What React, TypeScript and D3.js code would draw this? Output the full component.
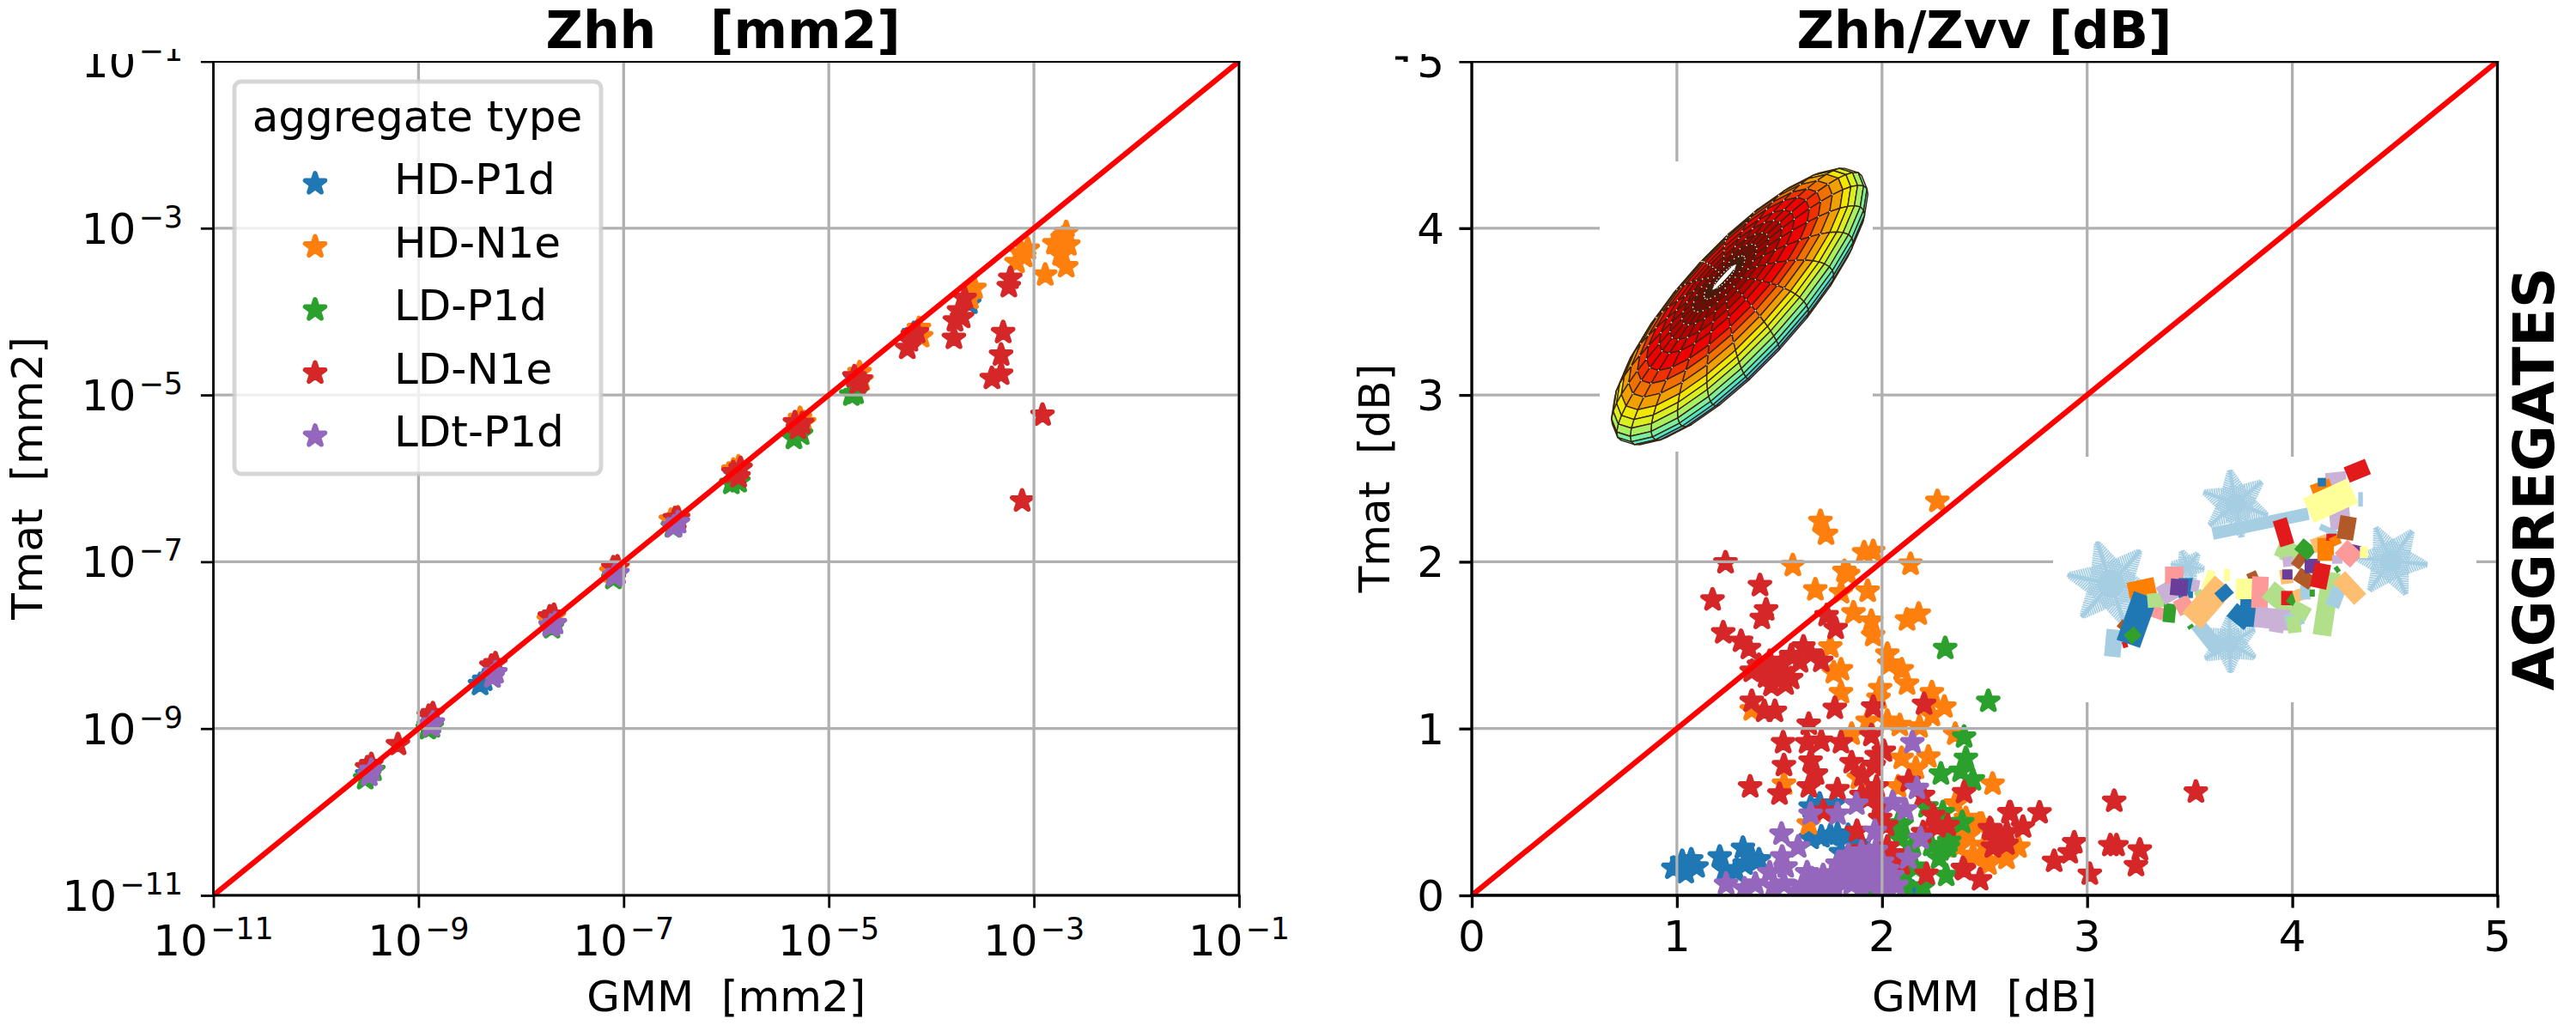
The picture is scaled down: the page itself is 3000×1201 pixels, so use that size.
import { useEffect, useRef } from "react";
import * as d3 from "d3";

const seriesNames = ["HD-P1d", "HD-N1e", "LD-P1d", "LD-N1e", "LDt-P1d"];
const seriesColors = ["#1f77b4", "#ff7f0e", "#2ca02c", "#d62728", "#9467bd"];

const logTicks = [-11, -9, -7, -5, -3, -1];
const dbTicks = [0, 1, 2, 3, 4, 5];

// Zhh panel, log10 of mm2 [GMM, Tmat]
const zhhHdP1d = [[-9.5,-9.55],[-8.9,-8.96],[-8.4,-8.47],[-8.36,-8.42],[-7.71,-7.76],[-7.09,-7.15],[-6.51,-6.56],[-5.91,-5.96],[-5.29,-5.36],[-4.74,-4.8],[-4.17,-4.26],[-3.63,-3.9]];
const zhhHdN1e = [[-7.68,-7.66],[-7.73,-7.7],[-7.06,-7.07],[-7.12,-7.12],[-6.47,-6.47],[-6.54,-6.5],[-5.88,-5.86],[-5.93,-5.9],[-5.28,-5.28],[-5.24,-5.33],[-4.7,-4.73],[-4.68,-4.82],[-4.12,-4.2],[-4.1,-4.3],[-3.58,-3.72],[-3.62,-3.84],[-3.095,-3.339],[-3.17,-3.41],[-3.06,-3.25],[-3.12,-3.3],[-2.8,-3.185],[-2.685,-3.05],[-2.665,-3.2],[-2.74,-3.32],[-2.685,-3.46],[-2.89,-3.56],[-2.72,-3.12]];
const zhhLdP1d = [[-9.52,-9.6],[-9.44,-9.5],[-9.5,-9.47],[-8.91,-9],[-8.87,-8.98],[-8.28,-8.38],[-7.7,-7.79],[-7.1,-7.2],[-6.52,-6.58],[-5.95,-6.06],[-5.88,-6.04],[-5.34,-5.52],[-5.27,-5.47],[-4.78,-5],[-4.74,-4.98]];
const zhhLdN1e = [[-9.5,-9.47],[-9.46,-9.43],[-9.2,-9.19],[-8.9,-8.85],[-8.86,-8.82],[-8.29,-8.25],[-8.25,-8.22],[-7.72,-7.66],[-7.68,-7.64],[-7.1,-7.07],[-7.06,-7.06],[-6.5,-6.48],[-6.47,-6.48],[-5.88,-5.98],[-5.93,-5.93],[-5.86,-5.88],[-5.3,-5.4],[-5.33,-5.33],[-5.26,-5.34],[-4.72,-4.865],[-4.75,-4.78],[-4.69,-4.82],[-4.18,-4.28],[-4.235,-4.44],[-4.21,-4.35],[-4.14,-4.25],[-3.23,-3.6],[-3.245,-3.7],[-3.675,-3.84],[-3.73,-3.99],[-3.77,-4.11],[-3.7,-4.07],[-3.78,-4.32],[-3.3,-4.25],[-3.32,-4.52],[-3.32,-4.75],[-3.41,-4.8],[-2.916,-5.24],[-3.115,-6.27]];
const zhhLdtP1d = [[-9.48,-9.56],[-9.46,-9.5],[-8.88,-8.97],[-8.86,-8.93],[-8.28,-8.38],[-8.25,-8.33],[-7.71,-7.77],[-7.67,-7.74],[-7.09,-7.17],[-7.06,-7.14],[-6.51,-6.58],[-6.47,-6.53]];
const zhhSeries = [zhhHdP1d, zhhHdN1e, zhhLdP1d, zhhLdN1e, zhhLdtP1d];

// Zhh/Zvv panel, dB [GMM, Tmat]
const zdrHdP1d = [[0.983,0.163],[1.026,0.205],[1.07,0.214],[1.096,0.171],[1.043,0.137],[1.209,0.231],[1.235,0.154],[1.322,0.283],[1.365,0.223],[1.33,0.188],[1.4,0.214],[1.287,0.146],[1.652,0.342],[1.704,0.351],[1.748,0.36],[1.783,0.368],[1.835,0.36],[1.696,0.548],[1.765,0.548],[1.652,0.53],[1.887,0.308],[1.8,0.257],[2.15,0.02]];
const zdrHdN1e = [[2.27,2.363],[1.7,2.243],[1.727,2.166],[1.913,2.055],[1.957,2.063],[1.565,1.978],[2.139,1.986],[1.817,1.943],[1.835,1.925],[1.675,1.832],[1.8,1.815],[1.93,1.824],[1.861,1.695],[2.122,1.652],[2.179,1.687],[1.948,1.644],[1.957,1.558],[1.748,1.49],[2.026,1.447],[2.035,1.387],[2.096,1.353],[1.765,1.336],[1.8,1.353],[2.122,1.267],[1.8,1.216],[1.991,1.241],[2.243,1.216],[2.304,1.13],[2.243,1.079],[1.983,1.182],[1.365,1.113],[1.93,1.045],[2.026,1.045],[2.087,1.019],[2.183,1.01],[1.852,0.967],[2.357,0.967],[2.096,0.822],[2.226,0.83],[2.165,0.762],[2.539,0.668],[1.522,0.668],[2.357,0.548],[2.409,0.462],[2.487,0.428],[2.443,0.24],[2.513,0.205],[2.374,0.291],[2.583,0.257],[1.643,0.428],[1.887,0.702],[2.078,0.651],[2.474,0.428],[2.665,0.29],[2.607,0.222],[2.519,0.188],[2.445,0.239],[2.35,0.34],[2.42,0.36],[2.5,0.3],[2.57,0.35]];
const zdrLdP1d = [[2.308,1.481],[2.518,1.164],[2.4,0.95],[2.409,0.822],[2.383,0.745],[2.443,0.693],[2.287,0.728],[2.391,0.437],[2.296,0.497],[2.096,0.428],[2.087,0.342],[2.322,0.291],[2.278,0.223],[2.313,0.12],[2.113,0.12],[2.113,0.051],[2.2,0.051],[1.948,0.017],[2.217,0.531],[2.113,0.223],[2.107,0.119],[2.078,0.428],[2.284,0.273],[2.328,0.325],[2.16,0.17],[2.24,0.3],[2.15,0.3]];
const zdrLdN1e = [[1.237,1.995],[1.405,1.858],[1.174,1.772],[1.435,1.712],[1.414,1.661],[1.226,1.575],[1.313,1.524],[1.351,1.481],[1.73,1.678],[1.774,1.601],[1.617,1.49],[1.557,1.438],[1.652,1.447],[1.704,1.404],[1.513,1.387],[1.452,1.404],[1.365,1.344],[1.435,1.31],[1.461,1.259],[1.53,1.267],[1.557,1.301],[1.4,1.38],[1.49,1.34],[1.6,1.4],[1.365,1.164],[1.426,1.104],[1.478,1.104],[1.77,1.122],[1.957,1.13],[2.205,1.147],[1.643,1.027],[1.518,0.916],[1.635,0.916],[1.704,0.925],[1.8,0.916],[1.948,0.959],[1.522,0.779],[1.652,0.805],[1.678,0.728],[1.852,0.796],[1.974,0.839],[2.009,0.865],[1.357,0.651],[1.5,0.608],[1.643,0.651],[1.783,0.634],[1.904,0.719],[1.974,0.651],[2.13,0.685],[2.4,0.616],[2.2,0.599],[1.713,0.505],[1.878,0.385],[1.991,0.462],[2.026,0.291],[2.27,0.411],[2.2,0.377],[2.217,0.128],[2.4,0.154],[2.478,0.094],[2.626,0.497],[2.53,0.394],[2.565,0.325],[2.609,0.377],[1.904,0.274],[2.096,0.188],[2.768,0.496],[2.621,0.496],[2.687,0.41],[2.526,0.402],[2.57,0.342],[2.54,0.29],[2.607,0.308],[3.132,0.565],[2.937,0.316],[2.915,0.256],[2.839,0.205],[3.113,0.299],[3.143,0.299],[3.257,0.273],[3.238,0.179],[3.013,0.128],[2.394,0.162],[3.53,0.62],[1.93,0.58],[1.99,0.55],[2.02,0.42],[2.05,0.25],[2.25,0.48],[2.32,0.42],[1.96,0.78],[1.9,0.6]];
const zdrLdtP1d = [[2.148,0.916],[2.17,0.642],[2.052,0.557],[2.113,0.514],[1.875,0.548],[1.652,0.488],[1.783,0.488],[1.965,0.385],[2.188,0.342],[1.51,0.368],[1.591,0.291],[1.513,0.231],[1.53,0.171],[2.127,0.223],[1.24,0.068],[1.452,0.137],[1.635,0.137],[1.383,0.068],[1.522,0.068],[1.835,0.24],[1.939,0.24],[1.678,0.068],[1.765,0.068],[1.852,0.068],[1.939,0.068],[2.026,0.068],[1.609,0.051],[1.713,0.12],[1.8,0.154],[1.887,0.154],[1.974,0.137],[2.026,0.154],[1.783,0.188],[1.87,0.205],[1.957,0.188],[1.47,0.051],[1.748,0.051],[1.904,0.103],[1.33,0.04],[1.58,0.02],[1.68,0.02],[1.72,0.06],[1.78,0.12],[1.83,0.09],[1.9,0.03],[1.96,0.1],[2,0.03],[2.07,0.06],[2.05,0.12],[1.84,0.17],[1.9,0.26],[1.97,0.27],[2,0.2],[1.76,0.13],[1.66,0.1]];
const zdrSeries = [zdrHdP1d, zdrHdN1e, zdrLdP1d, zdrLdN1e, zdrLdtP1d];

// inset picture of the spheroid: ring radius (fraction of the long axis), surface side, ring colour
const ringRadius = [0, 0.08, 0.16, 0.25, 0.34, 0.44, 0.53, 0.64, 0.72, 0.8, 0.87, 0.92, 0.96, 0.99, 1, 0.99, 0.96, 0.91];
const ringSide = [1, 1, 1, 1, 1, 1, 1, 1, 1, 1, 1, 1, 1, 1, 1, -1, -1, -1];
const ringColors = ["#640000", "#780000", "#8c0000", "#a00000", "#b80000", "#dc0000", "#f00000", "#f03000", "#f07000", "#f0a000", "#f0e800", "#d8f020", "#a8f060", "#78f0a0", "#50e8c8", "#40c8e0", "#4090d8"];
const sectorCount = 24;

// inset picture of the crystals, in the picture's own coordinates
const flakes = [[355, 690, 52, 0.2], [680, 410, 40, 0.35], [1085, 610, 43, 0.1], [665, 900, 34, 0.5], [555, 630, 20, 0.15]];
const rods = [
  [0,620,515,870,445,12],[0,365,850,358,945,16],[0,1000,395,1012,395,14],[0,900,490,960,525,6],[0,580,830,640,930,15],
  [11,380,850,395,825,10],[5,385,905,398,900,6],[4,470,810,480,770,14],[6,405,745,470,725,18],[7,400,715,470,695,16],
  [1,445,730,400,900,24],[3,425,855,398,885,12],[2,450,750,495,745,14],[3,510,760,505,825,12],[8,490,690,515,750,16],
  [4,520,630,520,690,18],[1,550,670,550,740,14],[4,535,740,555,790,16],[8,565,695,585,700,12],[9,510,700,555,705,16],
  [10,600,670,620,680,18],[10,650,660,665,660,12],[2,580,715,590,735,8],[6,650,690,565,820,24],[1,665,705,635,740,12],
  [3,560,835,565,845,6],[11,720,650,730,680,10],[2,690,745,760,700,14],[1,715,735,710,840,16],[1,670,780,715,830,16],
  [10,680,708,745,708,20],[4,745,665,742,775,16],[2,765,710,830,780,20],[8,730,805,830,820,20],[8,790,820,785,860,14],
  [9,828,850,830,855,4],[0,810,825,855,805,14],[2,815,835,850,830,16],[2,830,770,870,800,14],[6,810,640,815,690,12],
  [5,815,715,815,765,12],[3,835,730,820,760,8],[6,840,710,850,750,10],[0,862,695,862,745,10],[3,880,710,880,735,5],
  [2,930,650,905,870,18],[0,950,705,932,770,14],[6,950,665,1005,745,16],[2,790,560,840,590,18],[2,800,580,840,600,14],
  [8,815,595,818,630,10],[9,815,640,815,675,10],[11,860,585,835,630,10],[11,840,655,880,690,14],[9,860,628,900,628,14],
  [5,795,465,815,555,14],[3,845,550,880,590,14],[6,880,560,920,540,14],[7,915,530,915,610,16],[5,908,620,895,705,16],
  [3,950,635,940,645,6],[8,945,590,945,620,10],[9,995,555,990,590,10],[5,930,515,930,540,10],[7,935,525,945,555,10],
  [4,955,560,995,610,18],[10,1015,560,1015,600,8],[8,940,300,955,500,20],[11,975,455,965,535,16],[7,880,370,930,345,14],
  [1,905,320,905,350,8],[11,965,405,975,415,8],[10,870,435,985,365,26],[5,970,310,1025,280,16],
];

const W = 3000;
const H = 1201;
const top = 71.5;
const bottom = 1043;
const tickFont = 50;
const labelFont = 50;
const font = "'DejaVu Sans'";

const star = d3.symbol().type(d3.symbolStar).size(165)();

const App = () => {
  const ref = useRef(null);

  useEffect(() => {
    const svg = d3.select(ref.current);
    svg.selectAll("*").remove();
    svg.attr("width", W).attr("height", H).attr("viewBox", [0, 0, W, H]).style("position", "absolute").style("left", 0).style("top", 0).style("background", "#fff").attr("font-family", font);

    const x0 = d3.scaleLog().domain([1e-11, 1e-1]).range([248.5, 1443]);
    const y0 = d3.scaleLog().domain([1e-11, 1e-1]).range([bottom, top]);
    const x1 = d3.scaleLinear().domain([0, 5]).range([1714, 2908.5]);
    const y1 = d3.scaleLinear().domain([0, 5]).range([bottom, top]);

    const defs = svg.append("defs");
    const clipFor = (id, l, r) =>
      defs.append("clipPath").attr("id", id).append("rect").attr("x", l).attr("y", top).attr("width", r - l).attr("height", bottom - top);
    clipFor("clip0", 248.5, 1443);
    clipFor("clip1", 1714, 2908.5);
    defs.append("clipPath").attr("id", "topcut0").append("rect").attr("x", 0).attr("y", 57).attr("width", W).attr("height", H);
    defs.append("clipPath").attr("id", "topcut1").append("rect").attr("x", 0).attr("y", 63).attr("width", W).attr("height", H);

    const drawStars = (g, data, color, sx, sy) => {
      g.selectAll(null)
        .data(data)
        .join("path")
        .attr("d", star)
        .attr("transform", (d) => `translate(${sx(d[0])},${sy(d[1])})`)
        .attr("fill", color)
        .attr("stroke", color)
        .attr("stroke-width", 5.5)
        .attr("stroke-linejoin", "round");
    };

    const drawGrid = (g, sx, sy, xt, yt) => {
      const gridColor = "#b0b0b0";
      g.selectAll(null).data(xt).join("line").attr("x1", sx).attr("x2", sx).attr("y1", top).attr("y2", bottom).attr("stroke", gridColor).attr("stroke-width", 3.3);
      g.selectAll(null).data(yt).join("line").attr("y1", sy).attr("y2", sy).attr("x1", sx.range()[0]).attr("x2", sx.range()[1]).attr("stroke", gridColor).attr("stroke-width", 3.3);
    };

    // -------- left panel
    const logVal = (v) => Math.pow(10, v);
    const logTickVals = logTicks.map(logVal);
    const p0 = svg.append("g").attr("clip-path", "url(#clip0)");
    zhhSeries.forEach((s, i) => drawStars(p0, s.map((d) => d.map(logVal)), seriesColors[i], x0, y0));
    drawGrid(p0, x0, y0, logTickVals, logTickVals);
    p0.append("line").attr("x1", x0(1e-11)).attr("y1", y0(1e-11)).attr("x2", x0(1e-1)).attr("y2", y0(1e-1)).attr("stroke", "#ff0000").attr("stroke-width", 6.25);

    // -------- right panel
    const p1 = svg.append("g").attr("clip-path", "url(#clip1)");
    zdrSeries.forEach((s, i) => drawStars(p1, s, seriesColors[i], x1, y1));
    drawGrid(p1, x1, y1, dbTicks, dbTicks);
    p1.append("line").attr("x1", x1(0)).attr("y1", y1(0)).attr("x2", x1(5)).attr("y2", y1(5)).attr("stroke", "#ff0000").attr("stroke-width", 6.25);

    // spheroid inset
    p1.append("rect").attr("x", 1863).attr("y", 188).attr("width", 318).attr("height", 338).attr("fill", "#fff");
    const sph = p1.append("g");
    const cx = 2026, cy = 357, a = 209, c = 38, s = 0.28, cb = 0.96, skew = 0.34;
    const ux = 0.68, uy = -0.73, nx = 0.73, ny = 0.68;
    const project = (ri, k) => {
      const phi = (k / sectorCount) * 2 * Math.PI;
      const r = ringRadius[ri];
      const z = ringSide[ri] * Math.sqrt(Math.max(0, 1 - r * r));
      const X = a * r * Math.cos(phi);
      const Y = a * r * Math.sin(phi);
      const U = X + skew * c * z;
      const V = Y * s - c * z * cb;
      return [cx + U * ux + V * nx, cy + U * uy + V * ny];
    };
    ringColors.forEach((col, ri) => {
      d3.range(sectorCount).forEach((k) => {
        const q = [project(ri, k), project(ri, k + 1), project(ri + 1, k + 1), project(ri + 1, k)];
        if (d3.polygonArea(q) <= 0) return;
        sph.append("path").attr("d", "M" + q.join("L") + "Z").attr("fill", col).attr("stroke", "#3a2410").attr("stroke-width", 1.4).attr("stroke-linejoin", "round");
      });
    });
    d3.range(1, 10).forEach((ri) => {
      d3.range(sectorCount).forEach((k) => {
        const q = project(ri, k);
        sph.append("circle").attr("cx", q[0]).attr("cy", q[1]).attr("r", 0.8).attr("fill", "#fff");
      });
    });
    const pole = project(0, 0);
    sph.append("ellipse").attr("cx", pole[0]).attr("cy", pole[1]).attr("rx", 20).attr("ry", 2.4).attr("fill", "#fff").attr("transform", `rotate(-47 ${pole[0]} ${pole[1]})`);

    // crystal inset
    p1.append("rect").attr("x", 2391).attr("y", 532).attr("width", 493).attr("height", 286).attr("fill", "#fff");
    const insetX = d3.scaleLinear().domain([0, 1568]).range([2300, 3000]);
    const insetY = d3.scaleLinear().domain([0, 1200]).range([450, 850]);
    const paired = d3.schemePaired;
    const crystal = p1.append("g");
    flakes.forEach(([fx, fy, R, rot]) => {
      const ox = insetX(fx), oy = insetY(fy);
      const stem = d3.path();
      const twigs = d3.path();
      d3.range(6).forEach((k) => {
        const ang = rot + (k * Math.PI) / 3;
        const dx = Math.cos(ang), dy = Math.sin(ang);
        stem.moveTo(ox, oy);
        stem.lineTo(ox + dx * R, oy + dy * R);
        for (let t = 0.1; t < 0.95; t += 3 / R) {
          const bx = ox + dx * R * t, by = oy + dy * R * t;
          const len = R * 0.42 * (1 - t) + 3;
          [-1, 1].forEach((sgn) => {
            const ba = ang + (sgn * Math.PI) / 3;
            twigs.moveTo(bx, by);
            twigs.lineTo(bx + Math.cos(ba) * len, by + Math.sin(ba) * len);
          });
        }
      });
      crystal.append("path").attr("d", stem.toString()).attr("stroke", paired[0]).attr("stroke-width", R * 0.06 + 2).attr("fill", "none");
      crystal.append("path").attr("d", twigs.toString()).attr("stroke", paired[0]).attr("stroke-width", 1.8).attr("fill", "none");
      crystal.append("circle").attr("cx", ox).attr("cy", oy).attr("r", R * 0.3).attr("fill", paired[0]);
    });
    rods.forEach(([ci, xa, ya, xb, yb, w]) => {
      crystal.append("line").attr("x1", insetX(xa)).attr("y1", insetY(ya)).attr("x2", insetX(xb)).attr("y2", insetY(yb)).attr("stroke", paired[ci]).attr("stroke-width", w * 1.2).attr("stroke-linecap", "butt");
    });

    // -------- axes
    const drawAxes = (sx, sy, xVals, yVals, sw) => {
      const axX = svg.append("g").attr("transform", `translate(0,${bottom})`).call(d3.axisBottom(sx).tickValues(xVals).tickSize(14.6).tickSizeOuter(0).tickFormat(() => ""));
      const axY = svg.append("g").attr("transform", `translate(${sx.range()[0]},0)`).call(d3.axisLeft(sy).tickValues(yVals).tickSize(14.6).tickSizeOuter(0).tickFormat(() => ""));
      [axX, axY].forEach((ax) => {
        ax.select(".domain").remove();
        ax.selectAll("line").attr("stroke", "#000").attr("stroke-width", sw);
      });
      const [l, r] = sx.range();
      const spine = svg.append("g").attr("stroke", "#000").attr("stroke-width", sw).attr("stroke-linecap", "square");
      spine.append("line").attr("x1", l).attr("x2", r).attr("y1", bottom).attr("y2", bottom);
      spine.append("line").attr("x1", l).attr("x2", r).attr("y1", top).attr("y2", top);
      spine.append("line").attr("x1", l).attr("x2", l).attr("y1", top).attr("y2", bottom);
      spine.append("line").attr("x1", r).attr("x2", r).attr("y1", top).attr("y2", bottom);
    };
    drawAxes(x0, y0, logTickVals, logTickVals, 2.8);
    drawAxes(x1, y1, dbTicks, dbTicks, 3.3);
    svg.append("rect").attr("x", 0).attr("y", 0).attr("width", W).attr("height", 71).attr("fill", "#fff");

    const expFont = tickFont * 0.7;
    const powLabel = (x, y, anchor, exp) => {
      const t = svg.append("text").attr("x", x).attr("y", y).attr("text-anchor", anchor).attr("font-size", tickFont);
      t.append("tspan").text("10");
      t.append("tspan").attr("dx", 3).attr("dy", -19).attr("font-size", expFont).text(`\u2212${Math.abs(exp)}`);
    };
    logTicks.forEach((e) => {
      if (e === -1) {
        // the top label is cut by the white band above the axes
        const ty = y0(logVal(e)) + 18;
        svg.append("text").attr("x", 213 - 51.6 - 3).attr("y", ty).attr("text-anchor", "end").attr("font-size", tickFont).attr("clip-path", "url(#topcut1)").text("10");
        svg.append("text").attr("x", 213).attr("y", ty - 19).attr("text-anchor", "end").attr("font-size", expFont).attr("clip-path", "url(#topcut0)").text("\u22121");
      } else {
        powLabel(213, y0(logVal(e)) + 18, "end", e);
      }
      powLabel(x0(logVal(e)), 1113, "middle", e);
    });
    dbTicks.forEach((d) => {
      const t = svg.append("text").attr("x", 1682).attr("y", y1(d) + 18).attr("text-anchor", "end").attr("font-size", tickFont).text(d);
      if (d === 5) t.attr("clip-path", "url(#topcut1)");
      svg.append("text").attr("x", x1(d)).attr("y", 1108).attr("text-anchor", "middle").attr("font-size", tickFont).text(d);
    });
    // leftover stroke beside the cut-off top label
    svg.append("path").attr("d", "M1625 65.5h14.5v6.5h-5v-2.5h-9.5z").attr("fill", "#000");

    const title = (x, txt) =>
      svg.append("text").attr("x", x).attr("y", 56).attr("text-anchor", "middle").attr("font-size", 60).attr("font-weight", "bold").style("white-space", "pre").text(txt);
    title(842, "Zhh   [mm2]");
    title(2311, "Zhh/Zvv [dB]");

    const axisLabel = (x, y, txt, rot) => {
      const t = svg.append("text").attr("text-anchor", "middle").attr("font-size", labelFont).style("white-space", "pre").text(txt);
      if (rot) t.attr("transform", `translate(${x},${y}) rotate(-90)`);
      else t.attr("x", x).attr("y", y);
    };
    axisLabel(845.75, 1178, "GMM  [mm2]", false);
    axisLabel(2311, 1178, "GMM  [dB]", false);
    axisLabel(49, 557, "Tmat  [mm2]", true);
    axisLabel(1618, 557, "Tmat  [dB]", true);

    svg.append("text").attr("transform", "translate(2974,558) rotate(-90)").attr("text-anchor", "middle").attr("font-size", 66).attr("font-weight", "bold").text("AGGREGATES");

    // -------- legend
    const legend = svg.append("g");
    legend.append("rect").attr("x", 273).attr("y", 95).attr("width", 427).attr("height", 457).attr("rx", 8).attr("fill", "#fff").attr("fill-opacity", 0.8).attr("stroke", "#cccccc").attr("stroke-opacity", 0.8).attr("stroke-width", 5);
    legend.append("text").attr("x", 486).attr("y", 153).attr("text-anchor", "middle").attr("font-size", labelFont).text("aggregate type");
    const rowY = d3.scaleLinear().domain([0, 4]).range([214, 508]);
    seriesNames.forEach((name, i) => {
      legend.append("path").attr("d", star).attr("transform", `translate(367,${rowY(i)})`).attr("fill", seriesColors[i]).attr("stroke", seriesColors[i]).attr("stroke-width", 5.5).attr("stroke-linejoin", "round");
      legend.append("text").attr("x", 459).attr("y", rowY(i) + 12).attr("font-size", labelFont).text(name);
    });
  }, []);

  return <svg ref={ref}></svg>;
};

export default App;
